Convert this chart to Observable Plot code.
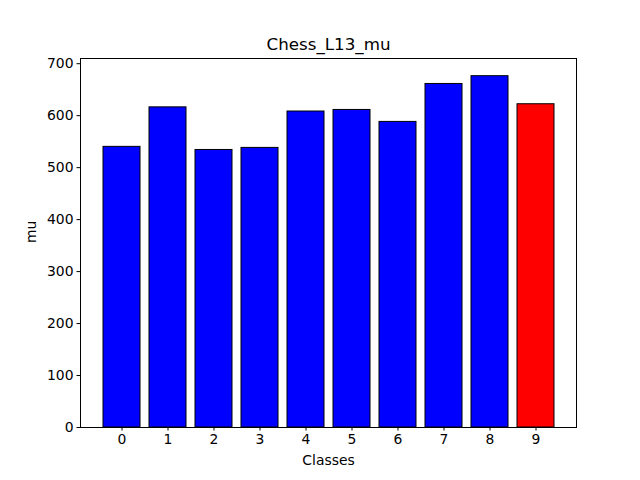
<!DOCTYPE html>
<html>
<head>
<meta charset="utf-8">
<script src="https://cdn.jsdelivr.net/npm/d3@7"></script>
<script src="https://cdn.jsdelivr.net/npm/@observablehq/plot@0.6"></script>
<style>
  html, body { margin: 0; padding: 0; background: #fff; }
  svg { font-family: "DejaVu Sans", sans-serif; }
</style>
</head>
<body>
<div id="chart"></div>
<script>
const classes = [0, 1, 2, 3, 4, 5, 6, 7, 8, 9];
const muValues = [540, 616, 534, 538, 608, 611, 588, 661, 676, 622];
const highlightClass = 9;
const yTicks = [0, 100, 200, 300, 400, 500, 600, 700];
const title = "Chess_L13_mu";

const data = classes.map((c, i) => ({cls: c, mu: muValues[i]}));

const chart = Plot.plot({
  width: 640,
  height: 480,
  marginLeft: 80,
  marginRight: 64,
  marginTop: 58,
  marginBottom: 53,
  style: {fontFamily: "DejaVu Sans, sans-serif", fontSize: "13.9px", background: "white", overflow: "visible"},
  x: {type: "band", domain: classes, paddingInner: 0.2, paddingOuter: 0.49, label: null},
  y: {domain: [0, 710], label: null},
  marks: [
    Plot.barY(data, {x: "cls", y: "mu", fill: d => d.cls === highlightClass ? "red" : "blue", stroke: "black", strokeWidth: 1}),
    Plot.frame({stroke: "black", strokeWidth: 1}),
    Plot.axisX({tickSize: 3.5, tickPadding: 3.5, fontSize: 13.9, label: null}),
    Plot.axisY({ticks: yTicks, tickSize: 3.5, tickPadding: 3.5, fontSize: 13.9, label: null, tickFormat: d3.format("d")}),
    Plot.text([title], {frameAnchor: "top", dy: -20, fontSize: 16.7, fill: "black"}),
    Plot.text(["Classes"], {frameAnchor: "bottom", dy: 37, fontSize: 13.9, fill: "black"}),
    Plot.text(["mu"], {frameAnchor: "left", dx: -49, rotate: -90, fontSize: 13.9, fill: "black"})
  ]
});
document.getElementById("chart").appendChild(chart);
</script>
</body>
</html>
